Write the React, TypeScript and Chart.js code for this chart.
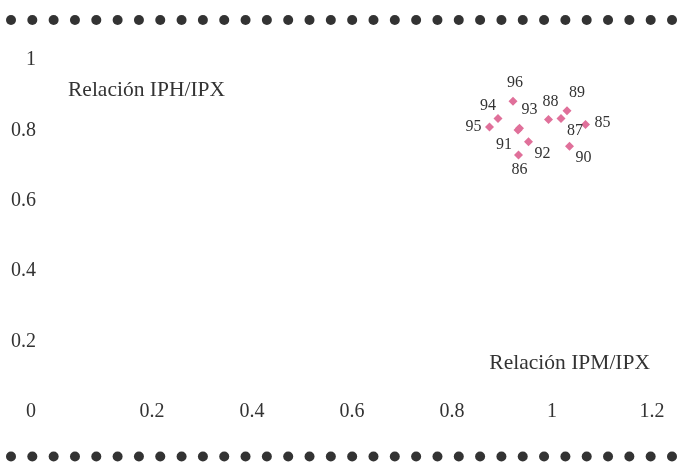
import React, { useEffect, useRef } from "react";
import { Chart, registerables } from "chart.js";

Chart.register(...registerables);

// Data: years and index ratios
const years = ["85", "86", "87", "88", "89", "90", "91", "92", "93", "94", "95", "96"];
const ipmIpx = [1.067, 0.933, 1.018, 0.993, 1.03, 1.035, 0.932, 0.953, 0.935, 0.892, 0.875, 0.922];
const iphIpx = [0.817, 0.73, 0.834, 0.831, 0.856, 0.755, 0.801, 0.768, 0.806, 0.834, 0.81, 0.883];
const labelSides = [
  "right", "bottom", "bottom-right", "top", "top-right", "bottom-right",
  "bottom-left", "bottom-right", "top-right", "top-left", "left", "top",
];
const xTickValues = [0.2, 0.4, 0.6, 0.8, 1, 1.2];
const yTickValues = [0, 0.2, 0.4, 0.6, 0.8, 1];
const xTitle = "Relación IPM/IPX";
const yTitle = "Relación IPH/IPX";

const FONT = "'Liberation Serif', 'Times New Roman', serif";
const TEXT = "#333333";
const PINK = "#e0709a";

const sideOffsets: Record<string, [number, number]> = {
  right: [17, -2],
  left: [-16, 0],
  top: [2, -18],
  bottom: [1, 15],
  "top-right": [10, -18],
  "top-left": [-10, -13],
  "bottom-right": [14, 12],
  "bottom-left": [-14, 15],
};

const decorPlugin = {
  id: "decor",
  afterDraw(chart: any) {
    const ctx = chart.ctx;
    const area = chart.chartArea;
    ctx.save();
    // dotted borders
    ctx.fillStyle = "#333333";
    const n = 32;
    const x0 = 11;
    const x1 = 672;
    const step = (x1 - x0) / (n - 1);
    for (const y of [20, 456.5]) {
      for (let i = 0; i < n; i++) {
        ctx.beginPath();
        ctx.arc(x0 + i * step, y, 5, 0, Math.PI * 2);
        ctx.fill();
      }
    }
    // axis titles
    ctx.fillStyle = TEXT;
    ctx.font = `21.5px ${FONT}`;
    ctx.textBaseline = "middle";
    ctx.textAlign = "left";
    ctx.fillText(yTitle, area.left + 16, area.top + 30);
    ctx.textAlign = "right";
    ctx.fillText(xTitle, area.right - 2, area.bottom - 49);
    // point labels
    ctx.font = `16px ${FONT}`;
    ctx.textAlign = "center";
    const meta = chart.getDatasetMeta(0);
    meta.data.forEach((pt: any, i: number) => {
      const off = sideOffsets[labelSides[i]] || [0, -15];
      ctx.fillText(years[i], pt.x + off[0], pt.y + off[1]);
    });
    ctx.restore();
  },
};

export default function App() {
  const ref = useRef<HTMLCanvasElement>(null);
  useEffect(() => {
    document.body.style.margin = "0";
    const chart = new Chart(ref.current!, {
      type: "scatter",
      data: {
        datasets: [
          {
            label: "IPH/IPX vs IPM/IPX",
            data: ipmIpx.map((x, i) => ({ x, y: iphIpx[i] })),
            pointStyle: "rectRot",
            pointRadius: 4.5,
            backgroundColor: PINK,
            borderColor: PINK,
            borderWidth: 0,
          },
        ],
      },
      options: {
        animation: false,
        responsive: true,
        maintainAspectRatio: false,
        layout: { padding: { left: 0, top: 60, right: 30, bottom: 43 } },
        plugins: { legend: { display: false }, tooltip: { enabled: false } },
        scales: {
          x: {
            type: "linear",
            min: 0,
            max: 1.2,
            border: { display: false },
            grid: { display: false, drawTicks: false },
            afterBuildTicks: (s: any) => {
              s.ticks = xTickValues.map((v) => ({ value: v }));
            },
            afterFit: (s: any) => {
              s.height = 10;
            },
            ticks: {
              mirror: true,
              padding: -12,
              color: TEXT,
              font: { family: FONT, size: 20 },
              maxRotation: 0,
              autoSkip: false,
              callback: (v: any) => String(Math.round(Number(v) * 10) / 10),
            },
          },
          y: {
            type: "linear",
            min: 0,
            max: 1,
            border: { display: false },
            grid: { display: false, drawTicks: false },
            afterBuildTicks: (s: any) => {
              s.ticks = yTickValues.map((v) => ({ value: v }));
            },
            afterFit: (s: any) => {
              s.width = 52;
            },
            ticks: {
              padding: 16,
              color: TEXT,
              font: { family: FONT, size: 20 },
              autoSkip: false,
              callback: (v: any) => String(Math.round(Number(v) * 10) / 10),
            },
          },
        },
      },
      plugins: [decorPlugin],
    });
    return () => chart.destroy();
  }, []);
  return (
    <div style={{ position: "relative", width: 682, height: 465 }}>
      <canvas ref={ref} />
    </div>
  );
}
